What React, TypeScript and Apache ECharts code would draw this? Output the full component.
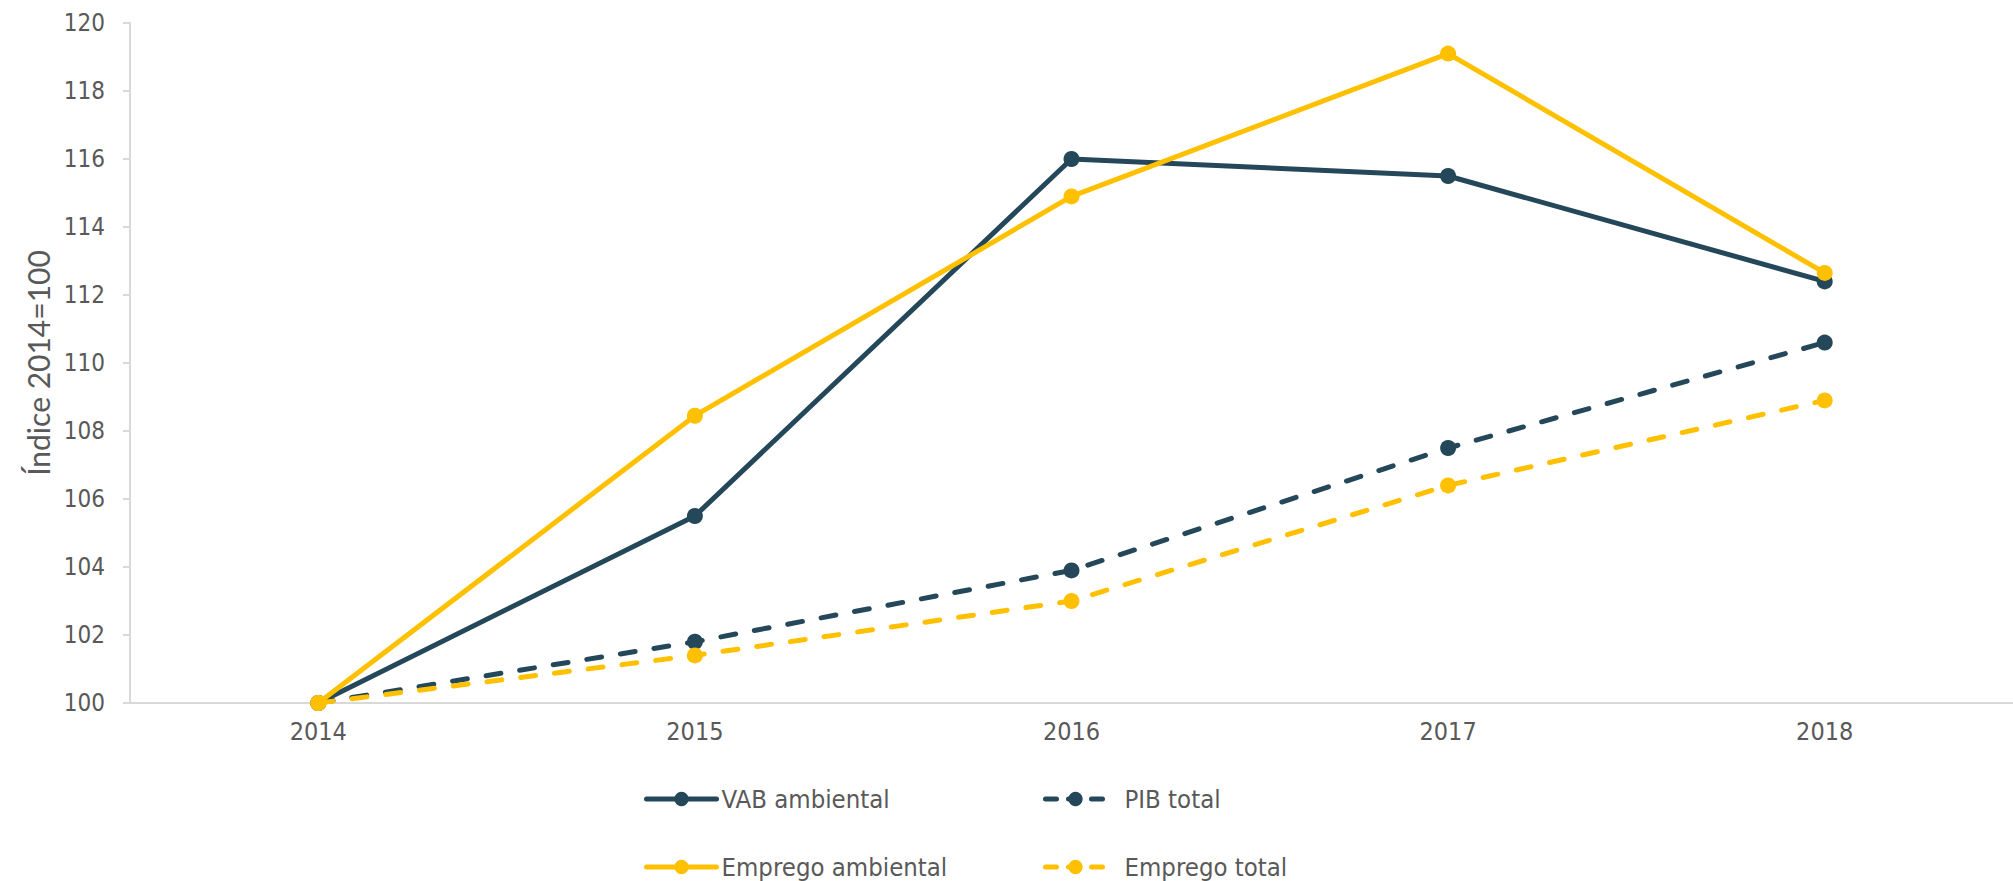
import React, { useEffect, useRef } from "react";
import * as echarts from "echarts";

const years = ["2014", "2015", "2016", "2017", "2018"];
const vabAmbiental = [100, 105.5, 116.0, 115.5, 112.4];
const pibTotal = [100, 101.8, 103.9, 107.5, 110.6];
const empregoAmbiental = [100, 108.45, 114.9, 119.1, 112.65];
const empregoTotal = [100, 101.4, 103.0, 106.4, 108.9];

const DARK = "#24475a";
const GOLD = "#ffc000";
const FONT = "'DejaVu Sans Condensed', 'Liberation Sans', sans-serif";

export default function App() {
  const ref = useRef<HTMLDivElement>(null);
  useEffect(() => {
    if (!ref.current) return;
    const chart = echarts.init(ref.current, null, { renderer: "svg" });
    const dash = [15, 19];
    const mk = (name: string, data: number[], color: string, dashed: boolean, z: number) => ({
      name,
      type: "line",
      data,
      z,
      symbol: "circle",
      symbolSize: 16,
      showSymbol: true,
      itemStyle: { color },
      lineStyle: { color, width: 5, type: dashed ? dash : "solid", cap: "round" },
      emphasis: { disabled: true },
    });
    const legendBase = {
      orient: "horizontal",
      itemHeight: 18,
      textStyle: { fontFamily: FONT, fontSize: 25.5, color: "#595959" },
    };
    const legendLine = (dashed: boolean) => ({
      width: 5,
      type: dashed ? [11, 12] : "solid",
      cap: "round",
    });
    chart.setOption({
      animation: false,
      backgroundColor: "#ffffff",
      grid: { left: 130, right: -24, top: 23, bottom: 178, containLabel: false },
      xAxis: {
        type: "category",
        data: years,
        boundaryGap: true,
        axisLine: { show: true, lineStyle: { color: "#d9d9d9", width: 2 } },
        axisTick: { show: false },
        axisLabel: { margin: 16, fontFamily: FONT, fontSize: 25, color: "#595959" },
      },
      yAxis: {
        type: "value",
        min: 100,
        max: 120,
        interval: 2,
        name: "Índice 2014=100",
        nameLocation: "middle",
        nameGap: 77,
        nameTextStyle: { fontFamily: "Lato, 'Liberation Sans', sans-serif", fontSize: 30, color: "#595959" },
        axisLine: { show: true, lineStyle: { color: "#d9d9d9", width: 2 } },
        axisTick: { show: true, length: 7, lineStyle: { color: "#d9d9d9", width: 2 } },
        splitLine: { show: false },
        axisLabel: { margin: 25, fontFamily: FONT, fontSize: 24, color: "#595959" },
      },
      legend: [
        { ...legendBase, left: 639, top: 781, itemWidth: 70, lineStyle: legendLine(false), data: ["VAB ambiental"] },
        { ...legendBase, left: 1038, top: 781, itemWidth: 60, lineStyle: legendLine(true), data: ["PIB total"], textStyle: { ...legendBase.textStyle, padding: [0, 0, 0, 14] } },
        { ...legendBase, left: 639, top: 849, itemWidth: 70, lineStyle: legendLine(false), data: ["Emprego ambiental"] },
        { ...legendBase, left: 1038, top: 849, itemWidth: 60, lineStyle: legendLine(true), data: ["Emprego total"], textStyle: { ...legendBase.textStyle, padding: [0, 0, 0, 14] } },
      ],
      series: [
        mk("VAB ambiental", vabAmbiental, DARK, false, 2),
        mk("PIB total", pibTotal, DARK, true, 3),
        mk("Emprego ambiental", empregoAmbiental, GOLD, false, 4),
        mk("Emprego total", empregoTotal, GOLD, true, 5),
      ],
    });
    return () => chart.dispose();
  }, []);
  return (
    <div
      ref={ref}
      style={{ position: "absolute", left: 0, top: 0, width: 2013, height: 881, background: "#fff" }}
    />
  );
}
